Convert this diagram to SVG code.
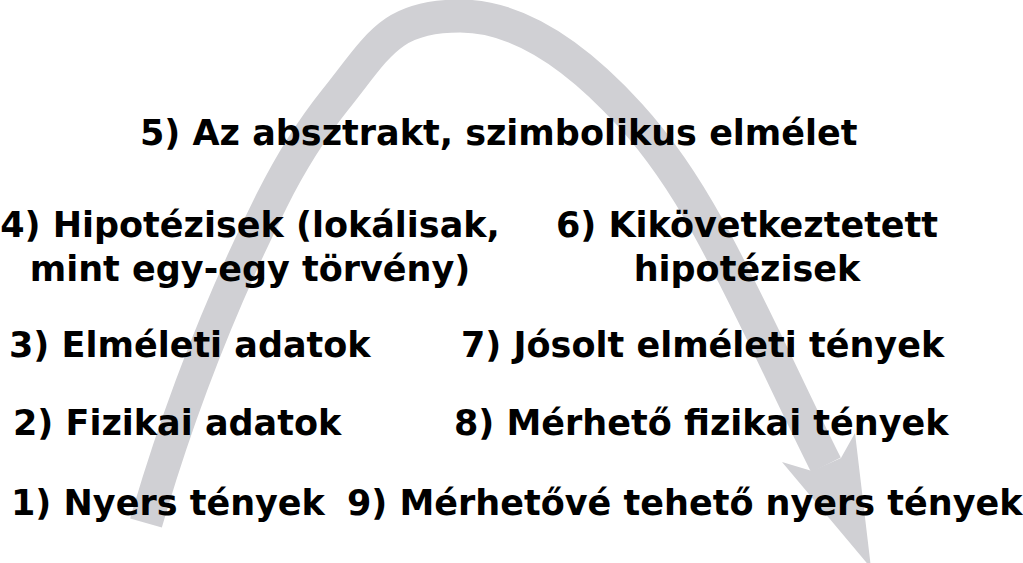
<svg xmlns="http://www.w3.org/2000/svg" width="1023" height="563" viewBox="0 0 1023 563">
<style>
.lbl{font-family:"DejaVu Sans","Verdana",sans-serif;font-weight:bold;font-size:35px;fill:#000}
.mid{text-anchor:middle}
.arc{fill:none;stroke:#d0d0d4;stroke-width:33;stroke-linecap:butt}
.head{fill:#d0d0d4;stroke:none}
</style>
<rect width="1023" height="563" fill="#fff"/>
<g id="connectors">
<path class="arc" d="M146,523 C178.2,411.9 220.3,303.3 272,200 C289.6,164.8 310.4,130.8 335,100 C378.8,45.3 390,16 460,16 C525.6,16 585.9,66.5 630,115 C660.6,148.7 686.1,187.1 708,227 C750.7,304.5 786.4,385.9 826,465"/>
<polygon class="head" points="782,462 812,471 841,458 855,433 871,568"/>
</g>
<g id="n5"><text class="lbl" x="140" y="145">5) Az absztrakt, szimbolikus elmélet</text></g>
<g id="n4"><text class="lbl mid" x="250" y="237">4) Hipotézisek (lokálisak,</text><text class="lbl mid" x="250" y="281">mint egy-egy törvény)</text></g>
<g id="n6"><text class="lbl mid" x="747" y="237">6) Kikövetkeztetett</text><text class="lbl mid" x="747" y="281">hipotézisek</text></g>
<g id="n3"><text class="lbl" x="9" y="357">3) Elméleti adatok</text></g>
<g id="n7"><text class="lbl" x="461" y="357">7) Jósolt elméleti tények</text></g>
<g id="n2"><text class="lbl" x="13" y="435">2) Fizikai adatok</text></g>
<g id="n8"><text class="lbl" x="454" y="435">8) Mérhető fizikai tények</text></g>
<g id="n1"><text class="lbl" x="11" y="515">1) Nyers tények</text></g>
<g id="n9"><text class="lbl" x="347" y="515">9) Mérhetővé tehető nyers tények</text></g>
</svg>
